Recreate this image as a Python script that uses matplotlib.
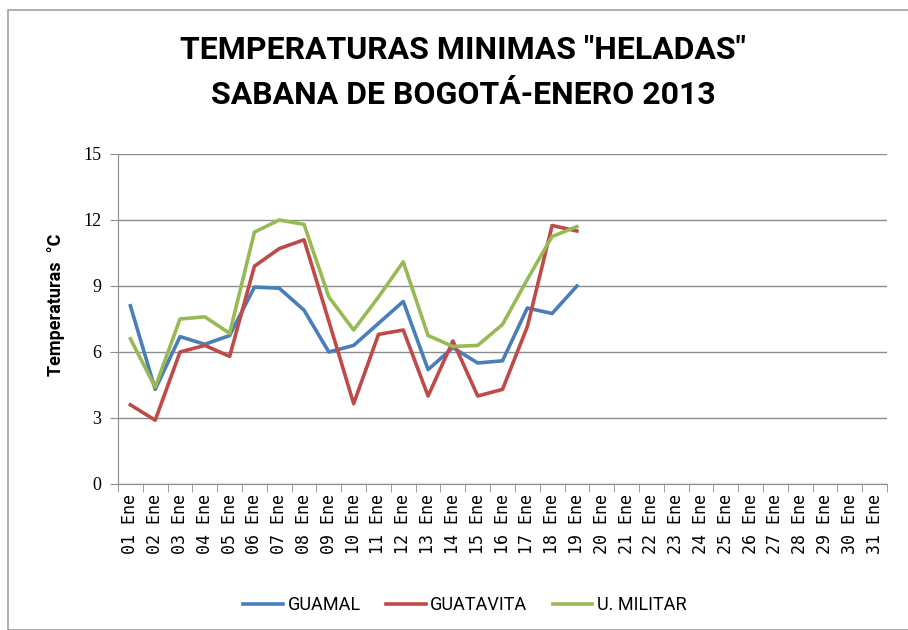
import numpy as np
import matplotlib.pyplot as plt
from matplotlib.patches import Rectangle

dias = [f"{d:02d} Ene" for d in range(1, 32)]

guamal = [8.1, 4.3, 6.7, 6.35, 6.75, 8.95, 8.9, 7.9, 6.0, 6.3,
          7.3, 8.3, 5.2, 6.2, 5.5, 5.6, 8.0, 7.75, 9.0]
guatavita = [3.6, 2.9, 6.0, 6.3, 5.8, 9.9, 10.7, 11.1, 7.4, 3.65,
             6.8, 7.0, 4.0, 6.5, 4.0, 4.3, 7.15, 11.75, 11.5]
militar = [6.6, 4.4, 7.5, 7.6, 6.85, 11.45, 12.0, 11.8, 8.5, 7.0,
           8.5, 10.1, 6.75, 6.25, 6.3, 7.25, 9.3, 11.25, 11.7]

series = [("GUAMAL", guamal, "#4a7ebb"),
          ("GUATAVITA", guatavita, "#be4b48"),
          ("U. MILITAR", militar, "#98b954")]

narrow = ["Liberation Sans Narrow", "DejaVu Sans Condensed", "Roboto"]

fig = plt.figure(figsize=(9.08, 6.3), dpi=100)
fig.patches.append(Rectangle((8 / 908, 0), 1, 1 - 10 / 630, transform=fig.transFigure,
                             fill=False, edgecolor="#a0a0a0", linewidth=1.2))

ax = fig.add_axes([118 / 908, 1 - 484 / 630, 769 / 908, 330 / 630])

x = np.arange(len(dias))
for name, vals, color in series:
    ax.plot(x[:len(vals)], vals, color=color, linewidth=2.6, label=name)

ax.set_xlim(-0.5, len(dias) - 0.5)
ax.set_ylim(0, 15)
ax.set_yticks([0, 3, 6, 9, 12, 15])
ax.set_yticklabels([str(v) for v in [0, 3, 6, 9, 12, 15]], family="Liberation Serif", fontsize=13)
ax.yaxis.grid(True, color="#8c8c8c", linewidth=1)
ax.set_axisbelow(True)

ax.set_xticks(x)
ax.set_xticklabels(dias, rotation=90, fontsize=12, family="DejaVu Sans Mono")
ax.set_xticks(np.arange(len(dias) + 1) - 0.5, minor=True)
ax.tick_params(axis="x", which="major", length=0, pad=7)
ax.tick_params(axis="x", which="minor", length=6, color="#8c8c8c")
ax.tick_params(axis="y", length=6, color="#8c8c8c", pad=6)

for side in ["top", "right"]:
    ax.spines[side].set_visible(False)
for side in ["left", "bottom"]:
    ax.spines[side].set_color("#8c8c8c")

# y label placed by hand, as in the original sheet
fig.text(56 / 908, 1 - 305 / 630, "Temperaturas  °C", rotation=90, ha="center", va="center",
         fontsize=13, fontweight="bold", family=narrow)

fig.text(0.51, 1 - 50 / 630, 'TEMPERATURAS MINIMAS "HELADAS"', ha="center", va="center",
         fontsize=23, fontweight="bold", family=narrow)
fig.text(0.51, 1 - 95 / 630, "SABANA DE BOGOTÁ-ENERO 2013", ha="center", va="center",
         fontsize=23, fontweight="bold", family=narrow)

fig.legend(loc="center", bbox_to_anchor=(0.512, 1 - 605 / 630), ncol=3, frameon=False,
           prop={"family": narrow, "size": 13}, handlelength=2.2, handletextpad=0.25,
           columnspacing=1.4)

fig.savefig("out.png", dpi=100)
